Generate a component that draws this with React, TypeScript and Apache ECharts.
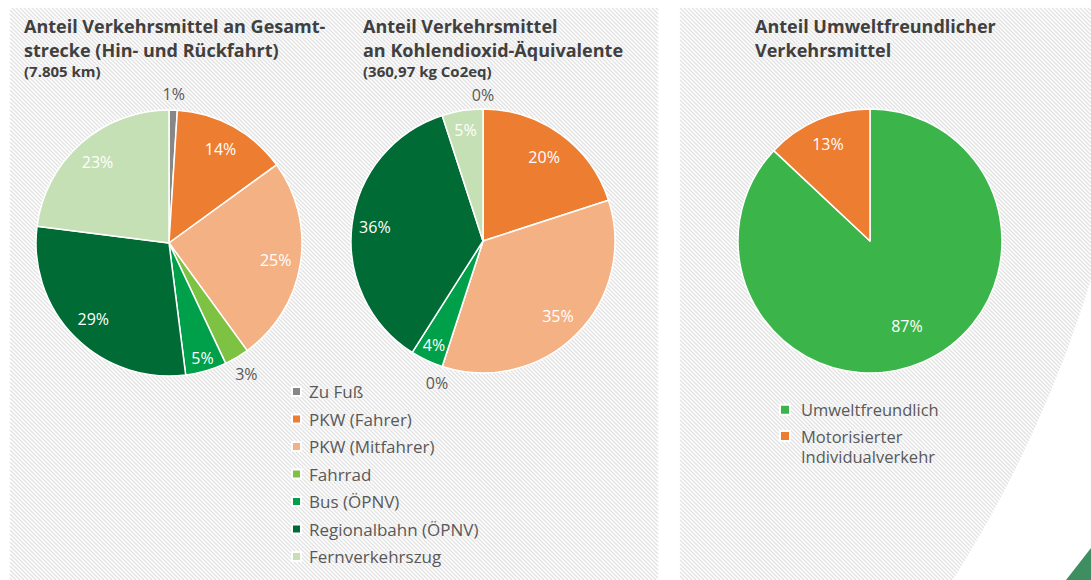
import React, { useEffect, useRef } from "react";
import * as echarts from "echarts";

// ---------- data ----------
const modes = [
  "Zu Fuß",
  "PKW (Fahrer)",
  "PKW (Mitfahrer)",
  "Fahrrad",
  "Bus (ÖPNV)",
  "Regionalbahn (ÖPNV)",
  "Fernverkehrszug",
];
const distanceShare = [1, 14, 25, 3, 5, 29, 23];
const co2Share = [0, 20, 35, 0, 4, 36, 5];
const ecoCategories = ["Umweltfreundlich", "Motorisierter Individualverkehr"];
const ecoShare = [87, 13];

const title1 = "Anteil Verkehrsmittel an Gesamt-\nstrecke (Hin- und Rückfahrt)";
const sub1 = "(7.805 km)";
const title2 = "Anteil Verkehrsmittel\nan Kohlendioxid-Äquivalente";
const sub2 = "(360,97 kg Co2eq)";
const title3 = "Anteil Umweltfreundlicher\nVerkehrsmittel";

// ---------- styles / layout ----------
const modeColors = ["#878787", "#ED7D31", "#F4B183", "#7DC242", "#00A04B", "#006B35", "#C5E0B4"];
const ecoColors = ["#3BB54A", "#ED7D31"];
const FONT = "Open Sans";

type PieLayout = { center: number[]; radius: number; labelR: number[]; outside: boolean[] };
const pie1Layout: PieLayout = {
  center: [169, 243],
  radius: 133,
  labelR: [146, 104, 105, 149, 117, 104, 105],
  outside: [true, false, false, true, false, false, false],
};
const pie2Layout: PieLayout = {
  center: [483, 241],
  radius: 132,
  labelR: [143, 101, 103, 146, 112, 106, 109],
  outside: [true, false, false, true, false, false, false],
};
const pie3Layout: PieLayout = {
  center: [870, 241],
  radius: 132,
  labelR: [90, 103],
  outside: [false, false],
};

function buildPie(names: string[], values: number[], colors: string[], layout: PieLayout) {
  const main: any = {
    type: "pie",
    center: layout.center,
    radius: layout.radius,
    startAngle: 90,
    clockwise: true,
    silent: true,
    emphasis: { disabled: true },
    label: { show: false },
    labelLine: { show: false },
    itemStyle: { borderColor: "#ffffff", borderWidth: 1.5 },
    data: names.map((n, i) => ({ name: n, value: values[i], itemStyle: { color: colors[i] } })),
  };
  const uniq = Array.from(new Set(layout.labelR));
  const overlays = uniq.map((r) => ({
    type: "pie",
    center: layout.center,
    radius: [0, 2 * r],
    startAngle: 90,
    clockwise: true,
    silent: true,
    legendHoverLink: false,
    avoidLabelOverlap: false,
    emphasis: { disabled: true },
    itemStyle: { color: "rgba(0,0,0,0)", borderWidth: 0 },
    labelLine: { show: false },
    data: names.map((n, i) => ({
      name: n,
      value: values[i],
      label: {
        show: layout.labelR[i] === r,
        position: "inside",
        formatter: "{c}%",
        color: layout.outside[i] ? "#595959" : "#ffffff",
        fontFamily: FONT,
        fontSize: 16,
      },
    })),
  }));
  return [main, ...overlays];
}

function hatch(x0: number, y0: number, x1: number, y1: number, step: number) {
  const els: any[] = [];
  for (let c = Math.ceil((x0 - y1) / step) * step; c <= x1 - y0; c += step) {
    const ys = Math.max(y0, x0 - c);
    const ye = Math.min(y1, x1 - c);
    if (ye > ys) {
      els.push({
        type: "line",
        silent: true,
        z: -10,
        shape: { x1: ys + c, y1: ys, x2: ye + c, y2: ye },
        style: { stroke: "#e2e2e2", lineWidth: 1.3 },
      });
    }
  }
  return els;
}

export default function App() {
  const ref = useRef<HTMLDivElement>(null);
  useEffect(() => {
    if (!ref.current) return;
    const chart = echarts.init(ref.current, undefined, { renderer: "svg" });
    const titleStyle = { fontFamily: FONT, fontSize: 18, fontWeight: "bold", color: "#404040", lineHeight: 24 };
    const subStyle = { fontFamily: FONT, fontSize: 15, fontWeight: "bold", color: "#404040", lineHeight: 18 };
    const option: any = {
      animation: false,
      backgroundColor: "#ffffff",
      title: [
        { text: title1, subtext: sub1, left: 24, top: 14, padding: 0, itemGap: 0, textStyle: titleStyle, subtextStyle: subStyle },
        { text: title2, subtext: sub2, left: 363, top: 14, padding: 0, itemGap: 0, textStyle: titleStyle, subtextStyle: subStyle },
        { text: title3, left: 755, top: 14, padding: 0, textStyle: titleStyle },
      ],
      legend: [
        {
          orient: "vertical",
          left: 291,
          top: 381.5,
          padding: 0,
          itemWidth: 9,
          itemHeight: 9,
          itemGap: 7.5,
          icon: "rect",
          selectedMode: false,
          data: modes,
          textStyle: { fontFamily: FONT, fontSize: 17, color: "#595959", lineHeight: 20, padding: [0, 0, 0, 3] },
        },
        {
          orient: "vertical",
          left: 779,
          top: 399.7,
          padding: 0,
          itemWidth: 10,
          itemHeight: 10,
          itemGap: -13.7,
          icon: "rect",
          selectedMode: false,
          formatter: (n: string) => (n.indexOf(" ") >= 0 ? "\n" + n.replace(" ", "\n") : n),
          data: ecoCategories,
          textStyle: { fontFamily: FONT, fontSize: 16.5, color: "#595959", lineHeight: 20, padding: [0, 0, 0, 6] },
        },
      ],
      graphic: [
        ...hatch(10, 8, 658, 580, 4),
        ...hatch(680, 8, 1091, 580, 4),
        { type: "ring", silent: true, z: -9, shape: { cx: -91, cy: -82, r: 1900, r0: 1236 }, style: { fill: "#ffffff" } },
        { type: "polygon", silent: true, z: -8, shape: { points: [[1066, 580], [1091, 548], [1091, 580]] }, style: { fill: "#3e8e61" } },
      ],
      series: [
        ...buildPie(modes, distanceShare, modeColors, pie1Layout),
        ...buildPie(modes, co2Share, modeColors, pie2Layout),
        ...buildPie(ecoCategories, ecoShare, ecoColors, pie3Layout),
      ],
    };
    chart.setOption(option);
    return () => chart.dispose();
  }, []);
  return <div ref={ref} style={{ position: "fixed", left: 0, top: 0, width: 1091, height: 580 }} />;
}
